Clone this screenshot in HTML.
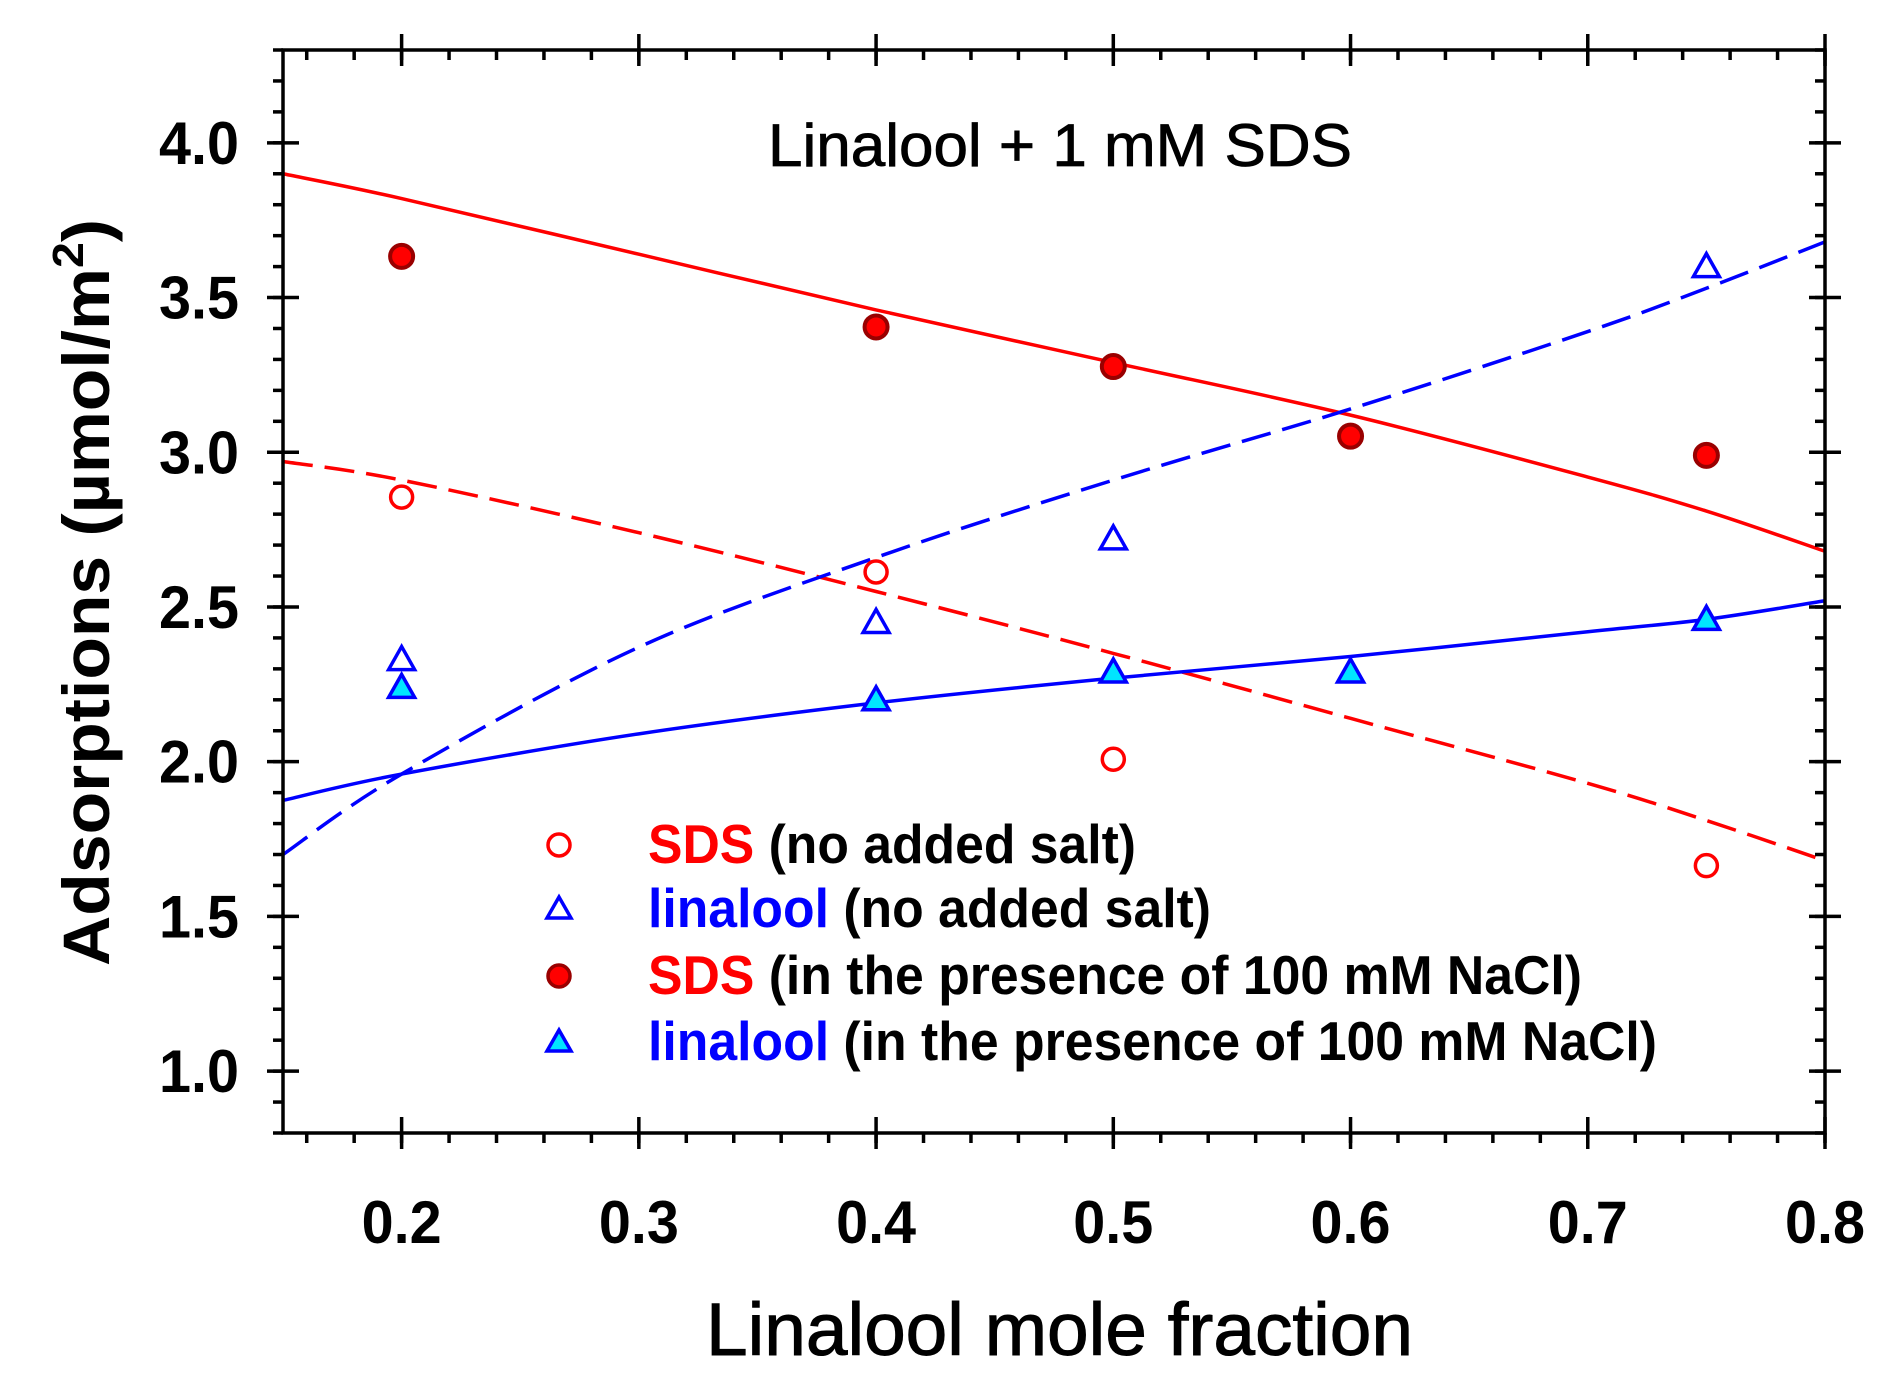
<!DOCTYPE html>
<html><head><meta charset="utf-8"><style>
html,body{margin:0;padding:0;background:#fff;}
svg{display:block;}
text{font-family:"Liberation Sans",Arial,sans-serif;}
</style></head>
<body>
<svg id="chart" width="1895" height="1382" viewBox="0 0 1895 1382" xmlns="http://www.w3.org/2000/svg">
<g id="curves"></g>
<g id="marks"></g>
<g id="axes"></g>
<text x="768" y="166" font-size="60" textLength="584" lengthAdjust="spacingAndGlyphs" stroke="#000" stroke-width="0.8">Linalool + 1 mM SDS</text>
<text x="706" y="1355" font-size="74" textLength="707" lengthAdjust="spacingAndGlyphs" stroke="#000" stroke-width="1">Linalool mole fraction</text>
<text transform="translate(109,966) rotate(-90)" font-size="66" font-weight="bold" textLength="747" lengthAdjust="spacingAndGlyphs">Adsorptions (µmol/m<tspan font-size="44" dy="-26">2</tspan><tspan dy="26">)</tspan></text>
<g>
 <circle cx="559" cy="845" r="11" fill="none" stroke="#ff0000" stroke-width="3.5"/>
 <text x="648" y="863" font-size="55" font-weight="bold" textLength="488" lengthAdjust="spacingAndGlyphs"><tspan fill="#ff0000">SDS</tspan> (no added salt)</text>
 <polygon points="559,897 547,918 571,918" fill="none" stroke="#0000ff" stroke-width="3.5"/>
 <text x="648" y="927" font-size="55" font-weight="bold" textLength="563" lengthAdjust="spacingAndGlyphs"><tspan fill="#0000ff">linalool</tspan> (no added salt)</text>
 <circle cx="559" cy="976" r="11" fill="#ff0000" stroke="#990000" stroke-width="3.5"/>
 <text x="648" y="994" font-size="55" font-weight="bold" textLength="934" lengthAdjust="spacingAndGlyphs"><tspan fill="#ff0000">SDS</tspan> (in the presence of 100 mM NaCl)</text>
 <polygon points="559,1030 547,1051 571,1051" fill="#00e5ff" stroke="#0000ff" stroke-width="3.5"/>
 <text x="648" y="1060" font-size="55" font-weight="bold" textLength="1009" lengthAdjust="spacingAndGlyphs"><tspan fill="#0000ff">linalool</tspan> (in the presence of 100 mM NaCl)</text>
</g>
</svg>
<script>
// data
const sdsNoSaltX = [0.2, 0.4, 0.5, 0.75];
const sdsNoSaltY = [2.855, 2.613, 2.008, 1.664];
const linNoSaltX = [0.2, 0.4, 0.5, 0.75];
const linNoSaltY = [2.33, 2.45, 2.72, 3.60];
const sdsNaclX = [0.2, 0.4, 0.5, 0.6, 0.75];
const sdsNaclY = [3.633, 3.405, 3.277, 3.052, 2.99];
const linNaclX = [0.2, 0.4, 0.5, 0.6, 0.75];
const linNaclY = [2.24, 2.20, 2.29, 2.29, 2.46];
const fitX = [0.15, 0.2, 0.3, 0.4, 0.5, 0.6, 0.7, 0.75, 0.8];
const fitSdsNacl = [3.90, 3.82, 3.64, 3.46, 3.29, 3.12, 2.92, 2.81, 2.68];
const fitSdsNoSalt = [2.97, 2.91, 2.74, 2.55, 2.35, 2.14, 1.93, 1.81, 1.68];
const fitLinNoSalt = [1.70, 1.96, 2.37, 2.66, 2.91, 3.14, 3.39, 3.53, 3.68];
const fitLinNacl = [1.875, 1.96, 2.09, 2.19, 2.27, 2.34, 2.42, 2.46, 2.52];
const xTicks = [0.2, 0.3, 0.4, 0.5, 0.6, 0.7, 0.8];
const xTickLabels = ["0.2", "0.3", "0.4", "0.5", "0.6", "0.7", "0.8"];
const yTicks = [1.0, 1.5, 2.0, 2.5, 3.0, 3.5, 4.0];
const yTickLabels = ["1.0", "1.5", "2.0", "2.5", "3.0", "3.5", "4.0"];

const L=283, R=1825, T=50, B=1133;
const X0=0.15, X1=0.8, Y0=0.8, Y1=4.3;
const sx = v => L + (v - X0) / (X1 - X0) * (R - L);
const sy = v => B - (v - Y0) / (Y1 - Y0) * (B - T);
const NS = "http://www.w3.org/2000/svg";
function mk(tag, parent, attrs) {
  const e = document.createElementNS(NS, tag);
  for (const k in attrs) e.setAttribute(k, attrs[k]);
  parent.appendChild(e);
  return e;
}
function pathFrom(xs, ys) {
  const p = xs.map((x, i) => [sx(x), sy(ys[i])]);
  let d = "M" + p[0][0] + "," + p[0][1];
  for (let i = 0; i < p.length - 1; i++) {
    const p0 = p[i - 1] || p[i], p1 = p[i], p2 = p[i + 1], p3 = p[i + 2] || p2;
    const c1 = [p1[0] + (p2[0] - p0[0]) / 6, p1[1] + (p2[1] - p0[1]) / 6];
    const c2 = [p2[0] - (p3[0] - p1[0]) / 6, p2[1] - (p3[1] - p1[1]) / 6];
    d += " C" + c1 + " " + c2 + " " + p2;
  }
  return d;
}
const cg = document.getElementById("curves");
let c;
c = mk("path", cg, {d: pathFrom(fitX, fitSdsNacl), fill: "none", stroke: "#ff0000", "stroke-width": 3.5});


c = mk("path", cg, {d: pathFrom(fitX, fitSdsNoSalt), fill: "none", stroke: "#ff0000", "stroke-width": 3.5, "stroke-dasharray": "30 12"});


c = mk("path", cg, {d: pathFrom(fitX, fitLinNoSalt), fill: "none", stroke: "#0000ff", "stroke-width": 3.5, "stroke-dasharray": "30 12"});


c = mk("path", cg, {d: pathFrom(fitX, fitLinNacl), fill: "none", stroke: "#0000ff", "stroke-width": 3.5});



const mg = document.getElementById("marks");
function tri(cx, cy) {
  return (cx) + "," + (cy - 13) + " " + (cx - 13) + "," + (cy + 10) + " " + (cx + 13) + "," + (cy + 10);
}
sdsNoSaltX.forEach((x, i) => {
  const e = mk("circle", mg, {cx: sx(x), cy: sy(sdsNoSaltY[i]), r: 11, fill: "none", stroke: "#ff0000", "stroke-width": 3.5});
  
  
});
linNoSaltX.forEach((x, i) => {
  const e = mk("polygon", mg, {points: tri(sx(x), sy(linNoSaltY[i])), fill: "none", stroke: "#0000ff", "stroke-width": 3.5});
  
  
});
sdsNaclX.forEach((x, i) => {
  const e = mk("circle", mg, {cx: sx(x), cy: sy(sdsNaclY[i]), r: 11.5, fill: "#ff0000", stroke: "#990000", "stroke-width": 4});
  
  
});
linNaclX.forEach((x, i) => {
  const e = mk("polygon", mg, {points: tri(sx(x), sy(linNaclY[i])), fill: "#00e5ff", stroke: "#0000ff", "stroke-width": 3.5});
  
  
});

const ag = document.getElementById("axes");
const frame = mk("rect", ag, {x: L, y: T, width: R - L, height: B - T, fill: "none", stroke: "#000", "stroke-width": 3.5});


const tk = {stroke: "#000", "stroke-width": 3.5};
for (let k = 8; k <= 40; k++) {
  const v = k * 0.02; if (v < X0 || v > X1 + 1e-9) continue;
  const x = sx(v);
  mk("line", ag, Object.assign({x1: x, y1: B, x2: x, y2: B + 10}, tk));
  mk("line", ag, Object.assign({x1: x, y1: T, x2: x, y2: T + 10}, tk));
}
xTicks.forEach((v, i) => {
  const x = sx(v);
  mk("line", ag, Object.assign({x1: x, y1: B - 16, x2: x, y2: B + 16}, tk));
  mk("line", ag, Object.assign({x1: x, y1: T - 16, x2: x, y2: T + 16}, tk));
  const t = mk("text", ag, {x: x - 40, y: 1243, "font-size": 60, "font-weight": "bold", textLength: 80, lengthAdjust: "spacingAndGlyphs"});
  t.textContent = xTickLabels[i];
  
  
});
for (let k = 8; k <= 43; k++) {
  const y = sy(k / 10);
  mk("line", ag, Object.assign({x1: L - 10, y1: y, x2: L, y2: y}, tk));
  mk("line", ag, Object.assign({x1: R - 10, y1: y, x2: R, y2: y}, tk));
}
yTicks.forEach((v, i) => {
  const y = sy(v);
  mk("line", ag, Object.assign({x1: L - 16, y1: y, x2: L + 16, y2: y}, tk));
  mk("line", ag, Object.assign({x1: R - 16, y1: y, x2: R + 16, y2: y}, tk));
  const t = mk("text", ag, {x: 159, y: y + 21, "font-size": 60, "font-weight": "bold", textLength: 80, lengthAdjust: "spacingAndGlyphs"});
  t.textContent = yTickLabels[i];
  
  
});
</script>
</body></html>
